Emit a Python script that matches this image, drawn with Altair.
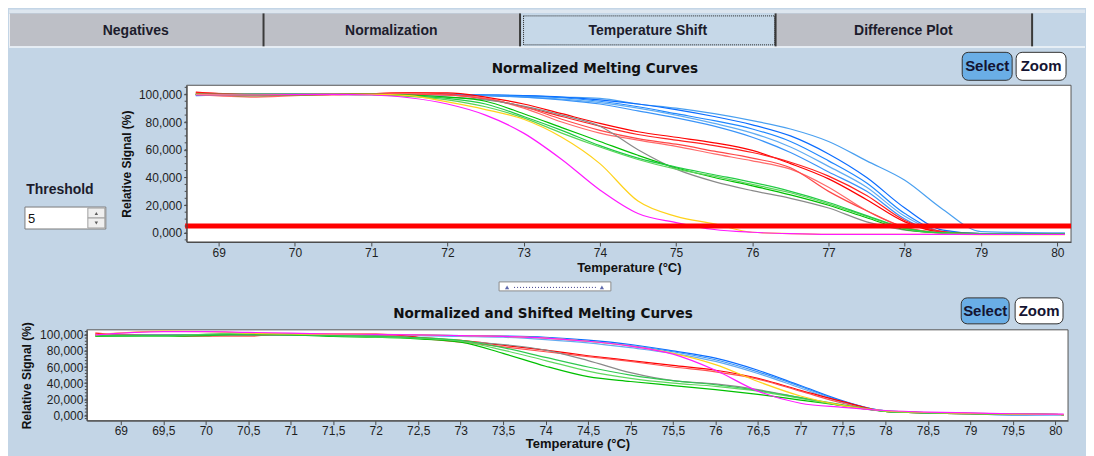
import altair as alt
import pandas as pd

BG = "#c3d5e6"
TAB_GRAY = "#bdbfc6"

# ---------------- data: top panel (Normalized Melting Curves) ----------------
top_temps = [68.7, 69.5, 70.5, 71.0, 71.5, 72.0, 72.5, 73.0, 73.5, 74.0, 74.5,
             75.0, 75.5, 76.0, 76.5, 77.0, 77.5, 78.0, 78.5, 79.0, 80.1]
top_names = ["blue1", "blue2", "blue3", "blue4", "blue5", "red1", "red2", "red3", "red4",
             "gray", "green1", "green2", "green3", "yellow", "magenta"]
top_colors = ["#4aa0f0", "#0a6cff", "#2088ff", "#60acf2", "#3a94f8",
              "#ff0000", "#ff2020", "#ff6a6a", "#ff4848",
              "#8a8a8a", "#00c000", "#5ad45a", "#22cc44", "#ffd21a", "#ff1aff"]
top_blue1 = [99.5, 100, 100, 100, 100, 100, 99.5, 99, 98, 97, 93, 90, 86, 81, 75, 66, 52, 38, 17, 1, 0]
top_blue2 = [99, 100, 100, 100, 100.5, 100, 99.5, 99, 98, 96, 93, 89, 84, 78, 70, 57, 40, 18, 2, -0.5, -0.5]
top_blue3 = [99.5, 100, 100, 100, 100, 100, 99.5, 98.5, 97.5, 95, 91, 86, 81, 75, 66, 52, 36, 14, 1, -0.5, -0.5]
top_blue4 = [100, 100, 100, 100, 100, 99.5, 99, 98, 96.5, 94, 90, 85, 79, 72, 62, 48, 33, 12, 0.5, -1, -1]
top_blue5 = [100, 100, 100, 100, 100, 99.5, 99, 98, 96, 93, 88, 83, 77, 69, 58, 44, 30, 10, 0, -1, -1]
top_red1 = [101.5, 99.5, 100, 100.5, 101, 101, 98, 93, 86, 79, 73, 69, 65, 59.5, 50, 39, 24, 8, 0.5, -0.5, -0.5]
top_red2 = [101, 100, 100, 100.5, 101, 100, 97, 91, 84, 77, 71, 67, 63, 58, 51, 41, 27, 9, 1, -1, -1]
top_red3 = [100, 98, 100, 100, 100.5, 99.5, 97, 90, 80, 72, 67, 62.5, 57, 52, 46, 33, 16, 4, 0, -1, -1]
top_red4 = [100.5, 99, 99.5, 100, 100, 99.5, 96.5, 91, 82, 74, 68, 64, 59, 54, 47, 30, 16, 4, 0, -1, -1]
top_gray = [100, 100, 100, 100, 99.5, 98, 96, 91.5, 85, 77, 60, 46, 37, 30.5, 25, 18, 8, 2, 0, -0.5, -0.5]
top_green1 = [100, 99, 100, 100, 99.5, 98, 95, 86, 76, 66, 56, 47, 40, 34, 27.5, 20, 11, 2.5, 0, -0.5, -0.5]
top_green2 = [99.5, 100, 100, 99.5, 98.5, 96, 91, 83, 72, 62, 53, 46, 41, 35, 29, 21, 12, 3, 0, -1, -1]
top_green3 = [100, 100, 100, 100, 99, 97, 93, 84, 74, 63, 54, 47.5, 42, 36.5, 30, 22, 12.5, 3.5, 0, -0.5, -0.5]
top_yellow = [100, 99.5, 100, 100, 99, 94.5, 89, 82, 69, 50, 23, 12, 6.5, 0.5, -0.5, -1, -1, -1, -1, -1.2, -1.2]
top_magenta = [99.5, 99.5, 100, 99.5, 97.5, 93, 85, 72, 53, 31, 14, 7.5, 2.5, 0.5, -0.5, -1, -1, -1, -1, -1, -1]
top_series = [top_blue1, top_blue2, top_blue3, top_blue4, top_blue5, top_red1, top_red2,
              top_red3, top_red4, top_gray, top_green1, top_green2, top_green3,
              top_yellow, top_magenta]
threshold_value = 5

# ---------------- data: bottom panel (Normalized and Shifted) ----------------
bot_temps = [68.7, 69.5, 70.0, 70.5, 71.0, 71.5, 72.0, 72.5, 73.0, 73.5, 74.0, 74.5,
             75.0, 75.5, 76.0, 76.5, 77.0, 77.5, 78.0, 78.5, 79.0, 79.5, 80.1]
bot_names = ["blueA", "blueB", "blueC", "red1", "red2", "gray", "green1", "green2",
             "green3", "yellow", "magenta"]
bot_colors = ["#0a6cff", "#3a94f8", "#64aaf0", "#ff0000", "#ff5050", "#8a8a8a",
              "#00c000", "#60d860", "#30c850", "#ffd21a", "#ff1aff"]
bot_blueA = [100, 100, 100, 100, 100, 100, 100, 99.5, 99, 98.5, 97, 93.5, 88, 80, 71, 56, 37, 18, 5.5, 3.5, 2.5, 1.5, 1]
bot_blueB = [100, 100, 100, 100, 100, 100, 100, 99.5, 99, 98, 96, 92, 86.5, 79, 69, 54, 36, 17, 5.5, 3.5, 2.5, 1, 0.5]
bot_blueC = [99.5, 99.5, 100, 100, 100, 100, 99.5, 99, 98, 97, 94, 90, 84, 77, 67, 52, 34, 16, 5.5, 3, 2, 0, 1]
bot_red1 = [102, 98.5, 98.5, 98.5, 101, 101, 101, 97, 93, 87, 81, 74, 68, 62, 56, 46, 31, 17, 5, 3, 2, 1.5, 1]
bot_red2 = [101, 99, 99, 100, 100, 100, 100, 96, 91, 85, 79, 73, 67, 60, 54, 45, 30, 15, 5, 3, 2, 1.5, 1]
bot_gray = [100, 100, 100, 100, 100, 100, 99, 96, 92, 88, 81, 68, 53, 43, 39, 32, 22, 12, 5, 3, 2, 1.5, 1]
bot_green1 = [98, 98, 99, 101, 100, 98, 97, 95, 91, 77, 61, 48, 42, 37, 32, 26, 19, 12, 5, 3, 2, 1.5, 1]
bot_green2 = [99, 98, 101, 102, 101, 99, 97.5, 96, 92, 81, 68, 55, 46, 40, 36, 30, 21, 12, 5, 3, 2, 1.5, 1]
bot_green3 = [99, 99, 100, 100, 100, 99, 98, 96.5, 93, 84, 72, 60, 50, 43, 38, 31, 22, 13, 5, 3, 2, 1.5, 1]
bot_yellow = [100, 104.5, 104, 102, 101, 100.5, 100.5, 100, 99, 98, 96, 92, 86, 77, 63, 42, 24, 12, 5.5, 3.5, 2.5, 1.5, 1]
bot_magenta = [100, 104, 104, 103, 102, 101, 100.5, 100, 99, 98, 96, 92, 86, 76, 56, 30, 15, 10, 6, 4, 3, 2, 1.5]
bot_series = [bot_blueA, bot_blueB, bot_blueC, bot_red1, bot_red2, bot_gray, bot_green1,
              bot_green2, bot_green3, bot_yellow, bot_magenta]

# axis ticks / labels
top_x_ticks = list(range(69, 81))
bot_x_ticks = [69 + 0.5 * i for i in range(23)]
y_ticks = [0, 20, 40, 60, 80, 100]
tab_labels = ["Negatives", "Normalization", "Temperature Shift", "Difference Plot"]


def to_long(temps, names, colors, series):
    rows = []
    for n, c, vals in zip(names, colors, series):
        for t, v in zip(temps, vals):
            rows.append({"T": t, "v": v, "curve": n, "col": c})
    return pd.DataFrame(rows)


top_df = to_long(top_temps, top_names, top_colors, top_series)
bot_df = to_long(bot_temps, bot_names, bot_colors, bot_series)

# ---------------- layout (page pixels) ----------------
TOP_O = (86, 85)      # column origin for top chart (plot itself starts 100px right)
BOT_O = (86, 330)     # bottom plot origin
TOP_SHIFT = 100
TOP_W, TOP_H = 986, 157
BOT_W, BOT_H = 983, 91
PAGE_R, PAGE_B = 1086, 456
ONE = pd.DataFrame({"_": [0]})


def rect_layer(items, origin, **kw):
    df = pd.DataFrame([{"x1": a - origin[0], "x2": b - origin[0], "y1": c - origin[1],
                        "y2": d - origin[1], "fill": f, "stroke": s}
                       for a, b, c, d, f, s in items])
    return alt.Chart(df).mark_rect(**kw).encode(
        x=alt.X("x1:Q", scale=None, axis=None), x2="x2:Q",
        y=alt.Y("y1:Q", scale=None, axis=None), y2="y2:Q",
        fill=alt.Fill("fill:N", scale=None, legend=None),
        stroke=alt.Stroke("stroke:N", scale=None, legend=None))


def text_layer(items, origin, **kw):
    df = pd.DataFrame([{"x": a - origin[0], "y": b - origin[1], "text": t} for a, b, t in items])
    return alt.Chart(df).mark_text(**kw).encode(
        x=alt.X("x:Q", scale=None, axis=None), y=alt.Y("y:Q", scale=None, axis=None),
        text="text:N")


def tri_layer(items, origin, shape, **kw):
    df = pd.DataFrame([{"x": a - origin[0], "y": b - origin[1]} for a, b in items])
    return alt.Chart(df).mark_point(shape=shape, filled=True, **kw).encode(
        x=alt.X("x:Q", scale=None, axis=None), y=alt.Y("y:Q", scale=None, axis=None))


fmt_y = "replace(format(datum.value, '.3f'), '.', ',')"

# ---------------- top chart ----------------
tx_scale = alt.Scale(domain=[68.58, 80.18], range=[TOP_SHIFT, TOP_W], nice=False, zero=False)
ty_scale = alt.Scale(domain=[-6.5, 106.5], nice=False, zero=False)
tx_axis = alt.Axis(values=top_x_ticks, labelExpr="format(datum.value, 'd')",
                   title="Temperature (°C)", tickSize=4, labelPadding=2,
                   titlePadding=3, titleFontSize=13, zindex=1)
ty_axis = alt.Axis(values=y_ticks, labelExpr=fmt_y, title="Relative Signal (%)",
                   tickSize=3, labelPadding=2, titlePadding=5, titleFontSize=12,
                   offset=-TOP_SHIFT, zindex=1)

bg = alt.Chart(ONE).mark_rect(color=BG).encode(
    x=alt.value(8 - TOP_O[0]), x2=alt.value(PAGE_R - TOP_O[0]),
    y=alt.value(8 - TOP_O[1]), y2=alt.value(PAGE_B - TOP_O[1]))

top_frame = alt.Chart(ONE).mark_rect(fill="white", stroke="#555555", strokeWidth=1).encode(
    x=alt.X(datum=68.58, scale=tx_scale, axis=tx_axis), x2=alt.datum(80.18),
    y=alt.Y(datum=-6.5, scale=ty_scale, axis=ty_axis), y2=alt.datum(106.5))

top_lines = alt.Chart(top_df).mark_line(strokeWidth=1.2, interpolate="monotone").encode(
    x=alt.X("T:Q", scale=tx_scale, axis=tx_axis),
    y=alt.Y("v:Q", scale=ty_scale, axis=ty_axis),
    color=alt.Color("col:N", scale=None, legend=None),
    detail="curve:N")

top_minor = alt.Chart(pd.DataFrame({"m": list(range(-5, 106, 5))})).mark_rule(
    color="#4a4a4a", strokeWidth=1).encode(
    y=alt.Y("m:Q", scale=ty_scale, axis=ty_axis),
    x=alt.value(TOP_SHIFT - 2), x2=alt.value(TOP_SHIFT))

threshold = alt.Chart(ONE).mark_rule(color="#ff0000", strokeWidth=5).encode(
    y=alt.Y(datum=threshold_value, scale=ty_scale, axis=ty_axis),
    x=alt.X(datum=68.56, scale=tx_scale, axis=tx_axis), x2=alt.datum(80.18))

tab_rects = rect_layer([
    (8, PAGE_R, 9, 12.5, "#dde6ef", "transparent"),
    (8, 263, 13, 46, TAB_GRAY, "transparent"),
    (263, 520, 13, 46, TAB_GRAY, "transparent"),
    (520, 776, 13, 46, "#c6d8e8", "transparent"),
    (776, 1033, 13, 46, TAB_GRAY, "transparent"),
    (8, PAGE_R, 46, 47.5, "#f2f6fa", "transparent"),
    (8, 9, 13, 46, "#eceef2", "transparent"),
    (262, 264, 13, 46, "#3a3a3a", "transparent"),
    (519, 521, 13, 46, "#3a3a3a", "transparent"),
    (775, 777, 13, 46, "#3a3a3a", "transparent"),
    (1032, 1034, 13, 46, "#3a3a3a", "transparent"),
], TOP_O)
sel_tab = rect_layer([(523.5, 775, 15.5, 44.5, "transparent", "#222222")], TOP_O,
                     strokeDash=[1, 1], strokeWidth=1)
tab_text = text_layer([(135, 31, tab_labels[0]), (391, 31, tab_labels[1]),
                       (648, 31, tab_labels[2]), (904, 31, tab_labels[3])], TOP_O,
                      font="Liberation Sans", fontWeight="bold", fontSize=14,
                      color="#1c1c2c", baseline="middle", align="center")

top_title = text_layer([(595, 69, "Normalized Melting Curves")], TOP_O,
                       font="DejaVu Sans", fontWeight="bold", fontSize=13.6, color="#111111",
                       baseline="middle", align="center")

top_btn_sel = rect_layer([(963, 1013, 52, 80, "#6aaee6", "#333333")], TOP_O,
                         cornerRadius=6, strokeWidth=1)
top_btn_zoom = rect_layer([(1017, 1067, 52, 80, "white", "#333333")], TOP_O,
                          cornerRadius=6, strokeWidth=1)
top_btn_text = text_layer([(988, 66, "Select"), (1042, 66, "Zoom")], TOP_O,
                          font="Liberation Sans", fontWeight="bold", fontSize=15,
                          color="#141432", baseline="middle", align="center")

thr_text = text_layer([(59, 190, "Threshold")], TOP_O, font="Liberation Sans",
                      fontWeight="bold", fontSize=14, color="#1c1c2c",
                      baseline="middle", align="center")
spin = rect_layer([(24, 105, 207, 229, "white", "#7b7b7b"),
                   (87, 104, 208, 218, "#efefef", "#a0a0a0"),
                   (87, 104, 218, 228, "#efefef", "#a0a0a0")], TOP_O, strokeWidth=1)
spin_text = text_layer([(27, 218.5, "5")], TOP_O, font="Liberation Sans", fontSize=13,
                       color="#111111", baseline="middle", align="left")
spin_up = tri_layer([(95.5, 213.5)], TOP_O, "triangle-up", size=12, color="#222222")
spin_dn = tri_layer([(95.5, 223)], TOP_O, "triangle-down", size=12, color="#222222")

handle = rect_layer([(499, 611, 282, 291, "white", "#8c8c8c")], TOP_O, strokeWidth=1)
handle_tri = tri_layer([(507, 287.5), (602, 287.5)], TOP_O, "triangle-up", size=18,
                       color="#1a2a8a")
handle_dots = alt.Chart(ONE).mark_rule(color="#3a3a8a", strokeDash=[1, 2]).encode(
    x=alt.value(514 - TOP_O[0]), x2=alt.value(596 - TOP_O[0]),
    y=alt.value(287.5 - TOP_O[1]))

top_chart = alt.layer(
    bg, tab_rects, sel_tab, tab_text, top_title, top_btn_sel, top_btn_zoom, top_btn_text,
    thr_text, spin, spin_text, spin_up, spin_dn, handle, handle_dots, handle_tri,
    top_frame, top_lines, threshold, top_minor
).properties(width=TOP_W, height=TOP_H)

# ---------------- bottom chart ----------------
bx_scale = alt.Scale(domain=[68.60, 80.15], nice=False, zero=False)
by_scale = alt.Scale(domain=[-6.6, 106.2], nice=False, zero=False)
bx_axis = alt.Axis(values=bot_x_ticks,
                   labelExpr="replace(format(datum.value, '.1~f'), '.', ',')",
                   title="Temperature (°C)", tickSize=4, labelPadding=1,
                   titlePadding=1, titleFontSize=13, zindex=1)
by_axis = alt.Axis(values=y_ticks, labelExpr=fmt_y, title="Relative Signal (%)",
                   tickSize=3, labelPadding=1, titlePadding=6, titleFontSize=12, zindex=1)

bot_frame = alt.Chart(ONE).mark_rect(fill="white", stroke="#555555", strokeWidth=1).encode(
    x=alt.X(datum=68.60, scale=bx_scale, axis=bx_axis), x2=alt.datum(80.15),
    y=alt.Y(datum=-6.6, scale=by_scale, axis=by_axis), y2=alt.datum(106.2))

bot_lines = alt.Chart(bot_df).mark_line(strokeWidth=1.2, interpolate="monotone").encode(
    x=alt.X("T:Q", scale=bx_scale, axis=bx_axis),
    y=alt.Y("v:Q", scale=by_scale, axis=by_axis),
    color=alt.Color("col:N", scale=None, legend=None),
    detail="curve:N")

bot_minor = alt.Chart(pd.DataFrame({"m": list(range(-4, 105, 4))})).mark_rule(
    color="#4a4a4a", strokeWidth=1).encode(
    y=alt.Y("m:Q", scale=by_scale, axis=by_axis), x=alt.value(-2), x2=alt.value(0))

bot_title = text_layer([(543, 314, "Normalized and Shifted Melting Curves")], BOT_O,
                       font="DejaVu Sans", fontWeight="bold", fontSize=13.6, color="#111111",
                       baseline="middle", align="center")
bot_btn_sel = rect_layer([(962, 1010, 298, 324, "#6aaee6", "#333333")], BOT_O,
                         cornerRadius=6, strokeWidth=1)
bot_btn_zoom = rect_layer([(1016, 1064, 298, 324, "white", "#333333")], BOT_O,
                          cornerRadius=6, strokeWidth=1)
bot_btn_text = text_layer([(986, 311, "Select"), (1040, 311, "Zoom")], BOT_O,
                          font="Liberation Sans", fontWeight="bold", fontSize=15,
                          color="#141432", baseline="middle", align="center")

bot_chart = alt.layer(
    bot_title, bot_btn_sel, bot_btn_zoom, bot_btn_text, bot_frame, bot_lines, bot_minor
).properties(width=BOT_W, height=BOT_H)

chart = alt.vconcat(
    top_chart, bot_chart, spacing=88, bounds="flush", padding=0, background=BG
).resolve_scale(
    x="independent", y="independent"
).configure_axis(
    labelFont="Liberation Sans", labelFontSize=12, labelColor="#1e1e1e",
    titleFont="Liberation Sans", titleFontWeight="bold", titleColor="#111111",
    domainColor="#4a4a4a", tickColor="#4a4a4a", grid=False,
    labelFlush=False, labelOverlap=False
).configure_view(strokeWidth=0)

chart.save("out.html", embed_options={"renderer": "svg", "actions": False})
